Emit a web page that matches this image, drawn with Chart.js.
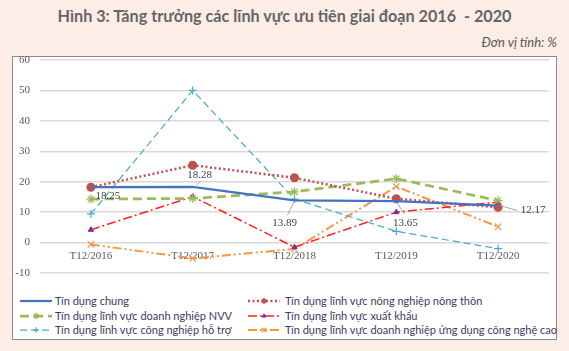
<!DOCTYPE html>
<html>
<head>
<meta charset="utf-8">
<script src="https://cdn.jsdelivr.net/npm/chart.js@4.4.1/dist/chart.umd.min.js"></script>
<style>
  body { margin: 0; width: 569px; height: 351px; background: #fcede7; position: relative; overflow: hidden; font-family: Lato, "Open Sans", sans-serif; }
  #title { position: absolute; left: 0; width: 569px; top: 6px; text-align: center; font-weight: bold; font-size: 16.2px; color: #656568; white-space: nowrap; }
  #unit { position: absolute; right: 12px; top: 34px; font-style: italic; font-size: 13px; color: #595959; }
  #box { position: absolute; left: 12px; top: 56px; width: 543px; height: 282px; background: #fff; border: 1.5px solid #8a8a8a; }
  #wrap { position: absolute; left: 0; top: 0; width: 569px; height: 290px; }
  .leg { position: absolute; font-size: 11px; color: #3b3b5e; white-space: nowrap; line-height: 14px; }
  .leg canvas { position: absolute; top: 1px; }
</style>
</head>
<body>
<div id="title">Hình 3: Tăng trưởng các lĩnh vực ưu tiên giai đoạn 2016&nbsp; - 2020</div>
<div id="unit">Đơn vị tính: %</div>
<div id="box"></div>
<div id="wrap"><canvas id="chart"></canvas></div>
<div id="legend"></div>
<script>
var nhan = ['T12/2016', 'T12/2017', 'T12/2018', 'T12/2019', 'T12/2020'];
var tenSeries = [
    'Tín dụng chung',
    'Tín dụng lĩnh vực nông nghiệp nông thôn',
    'Tín dụng lĩnh vực doanh nghiệp NVV',
    'Tín dụng lĩnh vực xuất khẩu',
    'Tín dụng lĩnh vực công nghiệp hỗ trợ',
    'Tín dụng lĩnh vực doanh nghiệp ứng dụng công nghệ cao'
];
var tinDungChung = [18.25, 18.28, 13.89, 13.65, 12.17];
var nongNghiep = [18.2, 25.4, 21.3, 14.4, 11.6];
var doanhNghiepNVV = [14.3, 14.5, 16.7, 21.0, 13.8];
var xuatKhau = [4.2, 15.1, -1.5, 10.0, 13.3];
var congNghiepHoTro = [9.4, 50.0, 14.3, 3.7, -2.0];
var congNgheCao = [-0.6, -5.2, -2.1, 18.4, 5.2];
var yTicks = [-10, 0, 10, 20, 30, 40, 50, 60];

var datasets = [
    { label: tenSeries[0], data: tinDungChung, borderColor: '#4472C4', backgroundColor: '#4472C4', borderWidth: 2.25, pointRadius: 0, pointStyle: false },
    { label: tenSeries[1], data: nongNghiep, borderColor: '#C0504D', backgroundColor: '#C0504D', borderWidth: 2.5, borderDash: [2, 2.5], pointStyle: 'circle', pointRadius: 3.3 },
    { label: tenSeries[2], data: doanhNghiepNVV, borderColor: '#9BBB59', backgroundColor: '#9BBB59', borderWidth: 2.75, borderDash: [9, 5], pointStyle: 'star', pointRadius: 4.5, pointBorderWidth: 1.25 },
    { label: tenSeries[3], data: xuatKhau, borderColor: '#FF1F1F', backgroundColor: '#7030A0', borderWidth: 1.5, borderDash: [9, 3, 2, 3], pointStyle: 'triangle', pointRadius: 3, pointBorderColor: '#7030A0', pointBorderWidth: 1 },
    { label: tenSeries[4], data: congNghiepHoTro, borderColor: '#4BACC6', backgroundColor: '#4BACC6', borderWidth: 1.25, borderDash: [7, 4], pointStyle: 'cross', pointRadius: 4, pointBorderWidth: 1.25 },
    { label: tenSeries[5], data: congNgheCao, borderColor: '#F79646', backgroundColor: '#F79646', borderWidth: 2, borderDash: [9, 3, 2, 3, 2, 3], pointStyle: 'crossRot', pointRadius: 4.5, pointBorderWidth: 1.25 }
];
datasets.forEach(function (d) {
    d.tension = 0;
    d.fill = false;
    if (d.pointBorderColor === undefined) d.pointBorderColor = d.borderColor;
    d.pointBackgroundColor = d.backgroundColor;
    d.pointHoverRadius = d.pointRadius;
});

// nhãn số liệu cho "Tín dụng chung" (dx, dy tính từ điểm)
var viTriNhan = [[17, 9], [7, -12], [-10, 23], [9, 22], [35, 5]];
var leader = [null, [[4, -2], [8, -6]], [[-1, 2], [-7, 15]], [[1, 2], [8, 13]], [[2, 0], [19, 5]]];

var nhanSoLieu = {
    id: 'nhanSoLieu',
    afterDatasetsDraw: function (chart) {
        var ctx = chart.ctx;
        var meta = chart.getDatasetMeta(0);
        ctx.save();
        ctx.font = '11px "Liberation Serif"';
        ctx.fillStyle = '#404040';
        ctx.textAlign = 'center';
        ctx.textBaseline = 'middle';
        meta.data.forEach(function (p, i) {
            var v = tinDungChung[i];
            if (leader[i]) {
                ctx.strokeStyle = '#a6a6a6';
                ctx.lineWidth = 1;
                ctx.beginPath();
                ctx.moveTo(p.x + leader[i][0][0], p.y + leader[i][0][1]);
                ctx.lineTo(p.x + leader[i][1][0], p.y + leader[i][1][1]);
                ctx.stroke();
            }
            ctx.fillText(v.toFixed(2), p.x + viTriNhan[i][0], p.y + viTriNhan[i][1]);
        });
        ctx.restore();
    }
};

var ctx = document.getElementById('chart').getContext('2d');
var bieuDo = new Chart(ctx, {
    type: 'line',
    data: { labels: nhan, datasets: datasets },
    options: {
        responsive: true,
        maintainAspectRatio: false,
        animation: false,
        layout: { padding: { left: 13, right: 20, top: 60, bottom: 17 } },
        plugins: { legend: { display: false }, tooltip: { enabled: false } },
        scales: {
            x: {
                position: { y: 0 },
                offset: true,
                grid: { display: false, drawTicks: false },
                border: { display: false },
                ticks: { font: { family: 'Liberation Serif', size: 11 }, color: '#595959', padding: 7, maxRotation: 0 }
            },
            y: {
                min: -10,
                max: 60,
                afterFit: function (s) { s.width = 27; },
                afterBuildTicks: function (s) { s.ticks = yTicks.map(function (v) { return { value: v }; }); },
                grid: { color: '#d9d9d9', lineWidth: 1.5, drawTicks: false },
                border: { display: false },
                ticks: { font: { family: 'Liberation Serif', size: 11 }, color: '#595959', padding: 10 }
            }
        }
    },
    plugins: [nhanSoLieu]
});

// chú giải 2 cột kiểu Excel
var legend = document.getElementById('legend');
var cot = [[20, 55], [248, 285]];
var hang = [294, 309, 323];
var thuTu = [0, 2, 4, 1, 3, 5];
thuTu.forEach(function (idx, k) {
    var c = Math.floor(k / 3), r = k % 3;
    var d = datasets[idx];
    var sample = document.createElement('canvas');
    sample.width = 32; sample.height = 12;
    sample.style.left = (cot[c][0] - cot[c][1]) + 'px';
    var g = sample.getContext('2d');
    g.strokeStyle = d.borderColor;
    g.lineWidth = d.borderWidth;
    g.setLineDash(d.borderDash || []);
    g.beginPath(); g.moveTo(0, 6); g.lineTo(32, 6); g.stroke();
    g.setLineDash([]);
    if (d.pointStyle) {
        g.fillStyle = d.backgroundColor; g.strokeStyle = d.pointBorderColor; g.lineWidth = d.pointBorderWidth || 1;
        g.beginPath();
        Chart.helpers.drawPoint(g, { pointStyle: d.pointStyle, radius: d.pointRadius * 0.7, borderWidth: d.pointBorderWidth || 1, rotation: 0 }, 16, 6);
    }
    var item = document.createElement('div');
    item.className = 'leg';
    item.style.left = cot[c][1] + 'px';
    item.style.top = hang[r] + 'px';
    item.appendChild(sample);
    item.appendChild(document.createTextNode(d.label));
    legend.appendChild(item);
});
</script>
</body>
</html>
